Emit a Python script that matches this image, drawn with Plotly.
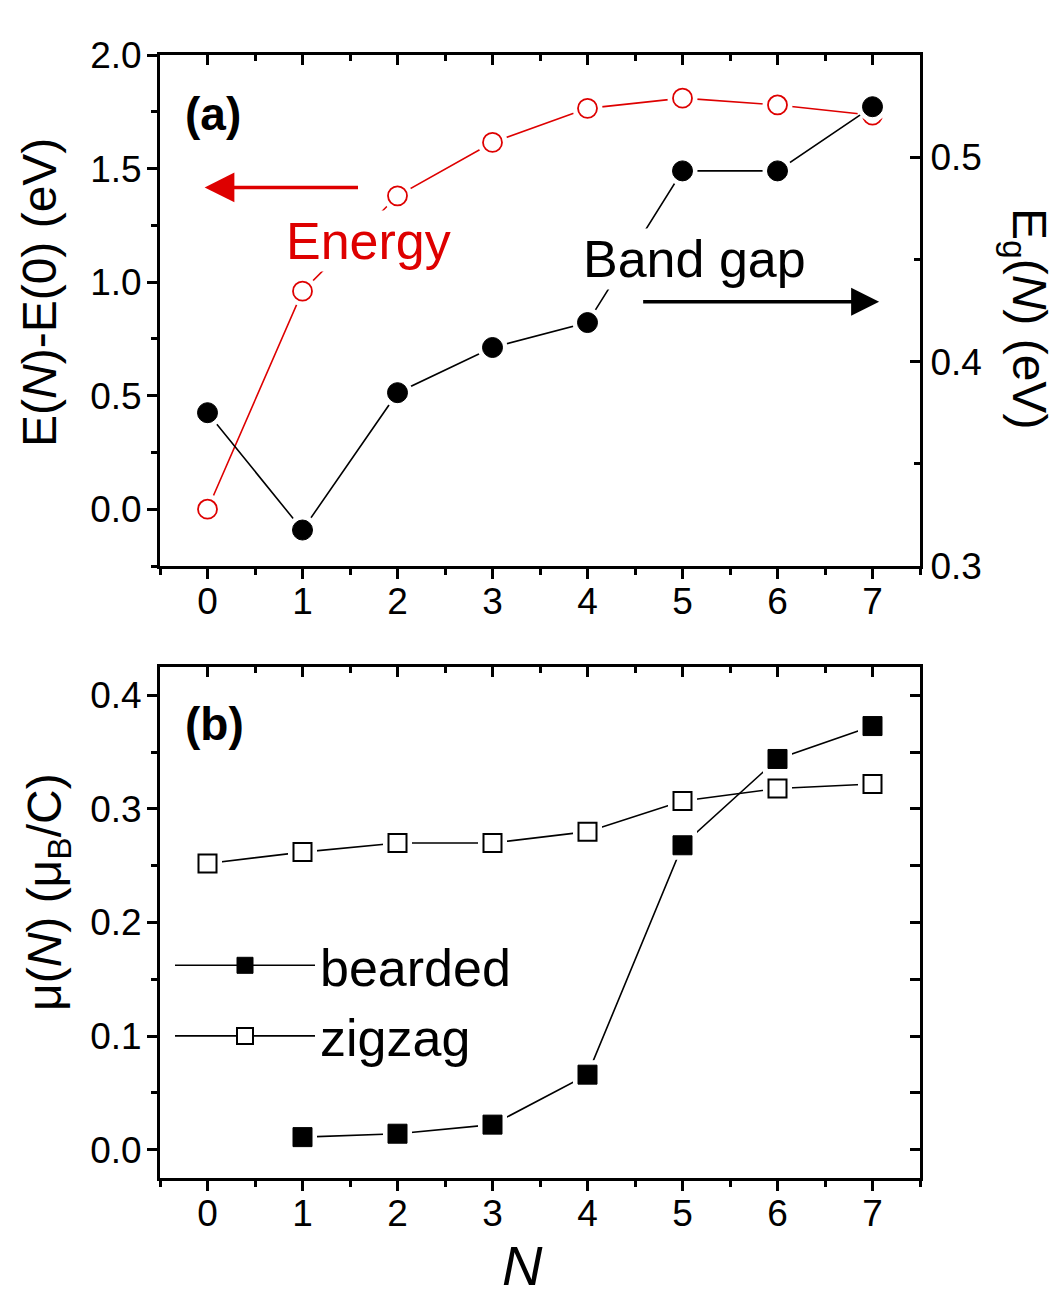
import plotly.graph_objects as go

# ---------------- data ----------------
N_top = [0, 1, 2, 3, 4, 5, 6, 7]
energy = [0.0, 0.96, 1.38, 1.615, 1.765, 1.81, 1.78, 1.735]      # E(N)-E(0), left axis
band_gap = [0.375, 0.3176, 0.3848, 0.4069, 0.4191, 0.4933, 0.4933, 0.5247]  # Eg(N), right axis

N_bearded = [1, 2, 3, 4, 5, 6, 7]
bearded = [0.011, 0.014, 0.022, 0.066, 0.268, 0.344, 0.373]
N_zigzag = [0, 1, 2, 3, 4, 5, 6, 7]
zigzag = [0.252, 0.262, 0.270, 0.270, 0.280, 0.307, 0.318, 0.322]

x_ticks = [0, 1, 2, 3, 4, 5, 6, 7]
top_left_ticks = [0.0, 0.5, 1.0, 1.5, 2.0]
top_right_ticks = [0.3, 0.4, 0.5]
bottom_ticks = [0.0, 0.1, 0.2, 0.3, 0.4]

# ---------------- style ----------------
OFF = 8                      # default page margin of the html body
W, H = 1060 - OFF, 1306 - OFF
FONT = "Liberation Sans, Arial, sans-serif"
RED = "rgb(222,0,0)"
BLACK = "black"
TICKFONT = dict(family=FONT, size=37, color="black")

def px_x(p):
    return (p - OFF) / W

def px_y(p):
    return 1 - (p - OFF) / H

XDOM = [px_x(160), px_x(920)]
TOP_DOM = [px_y(566), px_y(55)]
BOT_DOM = [px_y(1178), px_y(667)]

fig = go.Figure()

# ---- top panel: lines ----
fig.add_trace(go.Scatter(x=N_top, y=energy, mode="lines", line=dict(color=RED, width=1.6),
                         xaxis="x", yaxis="y", showlegend=False, hoverinfo="skip"))
fig.add_trace(go.Scatter(x=N_top, y=band_gap, mode="lines", line=dict(color=BLACK, width=1.6),
                         xaxis="x", yaxis="y2", showlegend=False, hoverinfo="skip"))
# halos (gap between line and marker)
fig.add_trace(go.Scatter(x=N_top, y=energy, mode="markers",
                         marker=dict(symbol="circle", size=30, color="white", line=dict(width=0)),
                         xaxis="x", yaxis="y", showlegend=False, hoverinfo="skip"))
fig.add_trace(go.Scatter(x=N_top, y=band_gap, mode="markers",
                         marker=dict(symbol="circle", size=30, color="white", line=dict(width=0)),
                         xaxis="x", yaxis="y2", showlegend=False, hoverinfo="skip"))
# markers
fig.add_trace(go.Scatter(x=N_top, y=energy, mode="markers",
                         marker=dict(symbol="circle", size=19, color="white", line=dict(color=RED, width=1.8)),
                         xaxis="x", yaxis="y", showlegend=False, name="Energy"))
fig.add_trace(go.Scatter(x=N_top, y=band_gap, mode="markers",
                         marker=dict(symbol="circle", size=20, color=BLACK, line=dict(color=BLACK, width=1)),
                         xaxis="x", yaxis="y2", showlegend=False, name="Band gap"))
# empty trace to host the top mirror axis
fig.add_trace(go.Scatter(x=[], y=[], xaxis="x3", yaxis="y", showlegend=False, hoverinfo="skip"))

# ---- bottom panel ----
fig.add_trace(go.Scatter(x=N_bearded, y=bearded, mode="lines+markers", name="bearded",
                         line=dict(color=BLACK, width=1.6),
                         marker=dict(symbol="square", size=19, color=BLACK, line=dict(color=BLACK, width=1)),
                         xaxis="x2", yaxis="y3"))
fig.add_trace(go.Scatter(x=N_zigzag, y=zigzag, mode="lines+markers", name="zigzag",
                         line=dict(color=BLACK, width=1.6),
                         marker=dict(symbol="square", size=18, color="white", line=dict(color=BLACK, width=2)),
                         xaxis="x2", yaxis="y3"))
fig.add_trace(go.Scatter(x=N_bearded, y=bearded, mode="markers",
                         marker=dict(symbol="square", size=29, color="white", line=dict(width=0)),
                         xaxis="x2", yaxis="y3", showlegend=False, hoverinfo="skip"))
fig.add_trace(go.Scatter(x=N_zigzag, y=zigzag, mode="markers",
                         marker=dict(symbol="square", size=29, color="white", line=dict(width=0)),
                         xaxis="x2", yaxis="y3", showlegend=False, hoverinfo="skip"))
fig.add_trace(go.Scatter(x=N_bearded, y=bearded, mode="markers",
                         marker=dict(symbol="square", size=19, color=BLACK, line=dict(color=BLACK, width=1)),
                         xaxis="x2", yaxis="y3", showlegend=False, hoverinfo="skip"))
fig.add_trace(go.Scatter(x=N_zigzag, y=zigzag, mode="markers",
                         marker=dict(symbol="square", size=18, color="white", line=dict(color=BLACK, width=2)),
                         xaxis="x2", yaxis="y3", showlegend=False, hoverinfo="skip"))
fig.add_trace(go.Scatter(x=[], y=[], xaxis="x4", yaxis="y3", showlegend=False, hoverinfo="skip"))
fig.add_trace(go.Scatter(x=[], y=[], xaxis="x2", yaxis="y4", showlegend=False, hoverinfo="skip"))

AX = dict(showline=True, linewidth=3, linecolor="black", showgrid=False, zeroline=False,
          tickwidth=2.5, tickcolor="black", tickfont=TICKFONT, automargin=False)

def xbase(anchor):
    return dict(AX, domain=XDOM, range=[-0.5, 7.5], anchor=anchor, tickvals=x_ticks,
                ticks="outside", ticklen=10, ticklabelstandoff=-9,
                minor=dict(dtick=0.5, tick0=0, ticks="outside", ticklen=6, tickwidth=2.5, tickcolor="black"))

def xtop(overlay, anchor):
    return dict(AX, domain=XDOM, range=[-0.5, 7.5], anchor=anchor, overlaying=overlay, side="top",
                tickvals=x_ticks, ticks="inside", ticklen=10, showticklabels=False,
                minor=dict(dtick=0.5, tick0=0, ticks="inside", ticklen=6, tickwidth=2.5, tickcolor="black"))

fig.update_layout(
    template="none",
    width=W, height=H,
    margin=dict(l=0, r=0, t=0, b=0, pad=0),
    paper_bgcolor="white", plot_bgcolor="white",
    font=dict(family=FONT, color="black"),
    xaxis=xbase("y"),
    xaxis3=xtop("x", "y"),
    xaxis2=xbase("y3"),
    xaxis4=xtop("x2", "y3"),
    yaxis=dict(AX, domain=TOP_DOM, range=[-0.25, 2.0], anchor="x", tickvals=top_left_ticks,
               tickformat=".1f", ticks="outside", ticklen=10, ticklabelstandoff=-2,
               minor=dict(dtick=0.25, tick0=0, ticks="outside", ticklen=6, tickwidth=2.5, tickcolor="black")),
    yaxis2=dict(AX, domain=TOP_DOM, range=[0.3, 0.55], anchor="x", overlaying="y", side="right",
                tickvals=top_right_ticks, tickformat=".1f", ticks="inside", ticklen=10,
                minor=dict(dtick=0.05, tick0=0.3, ticks="inside", ticklen=6, tickwidth=2.5, tickcolor="black")),
    yaxis3=dict(AX, domain=BOT_DOM, range=[-0.025, 0.425], anchor="x2", tickvals=bottom_ticks,
                tickformat=".1f", ticks="outside", ticklen=10, ticklabelstandoff=-2,
                minor=dict(dtick=0.05, tick0=0, ticks="outside", ticklen=6, tickwidth=2.5, tickcolor="black")),
    yaxis4=dict(AX, domain=BOT_DOM, range=[-0.025, 0.425], anchor="x2", overlaying="y3", side="right",
                tickvals=bottom_ticks, ticks="inside", ticklen=10, showticklabels=False,
                minor=dict(dtick=0.05, tick0=0, ticks="inside", ticklen=10, tickwidth=2.5, tickcolor="black")),
    showlegend=True,
    legend=dict(x=px_x(170), y=px_y(925), xanchor="left", yanchor="top",
                bgcolor="rgba(0,0,0,0)", borderwidth=0,
                font=dict(family=FONT, size=52, color="black"),
                itemwidth=140, tracegroupgap=0),
)

ann = []
# axis titles
ann.append(dict(text="E(<i>N</i>)-E(0) (eV)", x=px_x(39), y=px_y(293), xref="paper", yref="paper",
                textangle=-90, showarrow=False, font=dict(family=FONT, size=48, color="black"),
                xanchor="center", yanchor="middle"))
ann.append(dict(text="E<sub>g</sub>(<i>N</i>) (eV)", x=px_x(1026), y=px_y(318), xref="paper", yref="paper",
                textangle=90, showarrow=False, font=dict(family=FONT, size=48, color="black"),
                xanchor="center", yanchor="middle"))
ann.append(dict(text="μ(<i>N</i>) (μ<sub>B</sub>/C)", x=px_x(48), y=px_y(892), xref="paper", yref="paper",
                textangle=-90, showarrow=False, font=dict(family=FONT, size=48, color="black"),
                xanchor="center", yanchor="middle"))
ann.append(dict(text="<i>N</i>", x=px_x(522), y=px_y(1265), xref="paper", yref="paper",
                showarrow=False, font=dict(family=FONT, size=56, color="black"),
                xanchor="center", yanchor="middle"))
# panel labels
ann.append(dict(text="<b>(a)</b>", x=px_x(213), y=px_y(114), xref="paper", yref="paper",
                showarrow=False, font=dict(family=FONT, size=46, color="black"),
                xanchor="center", yanchor="middle"))
ann.append(dict(text="<b>(b)</b>", x=px_x(214), y=px_y(724), xref="paper", yref="paper",
                showarrow=False, font=dict(family=FONT, size=46, color="black"),
                xanchor="center", yanchor="middle"))
# in-plot labels (white background hides the lines behind them, as in the original)
ann.append(dict(text="Energy", x=1.69, y=1.18, xref="x", yref="y", showarrow=False, bgcolor="white",
                font=dict(family=FONT, size=52, color=RED), xanchor="center", yanchor="middle"))
ann.append(dict(text="Band gap", x=5.13, y=1.1, xref="x", yref="y", showarrow=False, bgcolor="white",
                font=dict(family=FONT, size=52, color="black"), xanchor="center", yanchor="middle"))
# arrows
ann.append(dict(text="", x=-0.03, y=1.417, xref="x", yref="y", ax=1.6, ay=1.417, axref="x", ayref="y",
                showarrow=True, arrowhead=2, arrowsize=1.7, arrowwidth=3.5, arrowcolor=RED))
ann.append(dict(text="", x=7.07, y=0.913, xref="x", yref="y", ax=4.57, ay=0.913, axref="x", ayref="y",
                showarrow=True, arrowhead=2, arrowsize=1.6, arrowwidth=3.5, arrowcolor="black"))
fig.update_layout(annotations=ann)

fig.write_html("out.html")
